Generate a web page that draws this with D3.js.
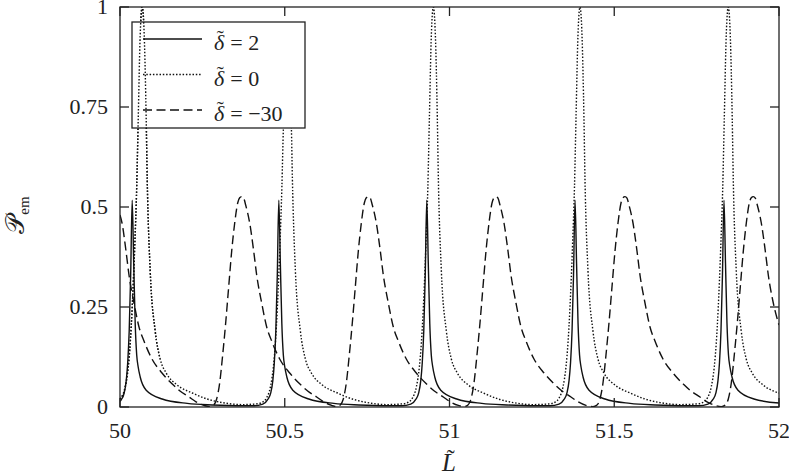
<!DOCTYPE html>
<html>
<head>
<meta charset="utf-8">
<style>
body { margin: 0; background: #fff; }
svg text { font-family: "Liberation Serif", serif; fill: #222; }
.tick-label { font-size: 22px; }
</style>
</head>
<body>
<svg id="chart" width="789" height="475"></svg>
<script src="https://cdn.jsdelivr.net/npm/d3@7"></script>
<script>
// tick values
var xTicks = [50, 50.5, 51, 51.5, 52];
var yTicks = [0, 0.25, 0.5, 0.75, 1];
var yTickLabels = ["0", "0.25", "0.5", "0.75", "1"];
var xTickLabels = ["50", "50.5", "51", "51.5", "52"];

// delta = 2 (solid)
var delta2 = [
  [50.000, 0.014], [50.0036, 0.018], [50.0127, 0.035], [50.0188, 0.065], [50.0233, 0.11], [50.0279, 0.19], [50.0324, 0.33],
  [50.037, 0.517], [50.0416, 0.36], [50.0461, 0.21], [50.0507, 0.13], [50.0552, 0.10], [50.0613, 0.075], [50.0795, 0.042],
  [50.128, 0.02], [50.204, 0.009], [50.28, 0.005], [50.371, 0.003],
  [50.406, 0.003], [50.4334, 0.007], [50.4486, 0.019], [50.4577, 0.036], [50.4638, 0.066], [50.4683, 0.11], [50.4729, 0.19], [50.4774, 0.33],
  [50.482, 0.517], [50.4866, 0.36], [50.4911, 0.21], [50.4957, 0.13], [50.5002, 0.10], [50.5063, 0.075], [50.5245, 0.042],
  [50.573, 0.02], [50.649, 0.009], [50.725, 0.005], [50.816, 0.003],
  [50.855, 0.003], [50.8824, 0.007], [50.8976, 0.019], [50.9067, 0.036], [50.9128, 0.066], [50.9173, 0.11], [50.9219, 0.19], [50.9264, 0.33],
  [50.931, 0.517], [50.9356, 0.36], [50.9401, 0.21], [50.9447, 0.13], [50.9492, 0.10], [50.9553, 0.075], [50.9735, 0.042],
  [51.022, 0.02], [51.098, 0.009], [51.174, 0.005], [51.265, 0.003],
  [51.305, 0.003], [51.3324, 0.007], [51.3476, 0.019], [51.3567, 0.036], [51.3628, 0.066], [51.3673, 0.11], [51.3719, 0.19], [51.3764, 0.33],
  [51.381, 0.517], [51.3856, 0.36], [51.3901, 0.21], [51.3947, 0.13], [51.3992, 0.10], [51.4053, 0.075], [51.4235, 0.042],
  [51.472, 0.02], [51.548, 0.009], [51.624, 0.005], [51.715, 0.003],
  [51.757, 0.003], [51.7844, 0.007], [51.7996, 0.019], [51.8087, 0.036], [51.8148, 0.066], [51.8193, 0.11], [51.8239, 0.19], [51.8284, 0.33],
  [51.833, 0.517], [51.8376, 0.36], [51.8421, 0.21], [51.8467, 0.13], [51.8512, 0.10], [51.8573, 0.075], [51.8755, 0.042],
  [51.924, 0.02], [52.000, 0.01]
];

// delta = 0 (dotted)
var delta0 = [
  [50.000, 0.02], [50.0158, 0.05], [50.0249, 0.10], [50.031, 0.16], [50.0371, 0.25], [50.0446, 0.40], [50.0507, 0.55], [50.0553, 0.72], [50.0613, 0.93],
  [50.0674, 1.0], [50.0735, 0.93], [50.0795, 0.72], [50.0826, 0.57], [50.0917, 0.34], [50.1068, 0.19], [50.122, 0.12], [50.1402, 0.085],
  [50.1734, 0.055], [50.2194, 0.035], [50.2644, 0.02], [50.3104, 0.011], [50.3704, 0.006],
  [50.417, 0.008], [50.4321, 0.012], [50.4443, 0.022], [50.4564, 0.05], [50.4655, 0.10], [50.4716, 0.16], [50.4777, 0.25], [50.4852, 0.40], [50.4913, 0.55], [50.4959, 0.70], [50.5019, 0.82],
  [50.508, 0.88], [50.5141, 0.82], [50.5201, 0.70], [50.5232, 0.57], [50.5323, 0.34], [50.5474, 0.19], [50.5626, 0.12], [50.5808, 0.085],
  [50.614, 0.055], [50.66, 0.035], [50.705, 0.02], [50.751, 0.011], [50.811, 0.006],
  [50.860, 0.008], [50.8751, 0.012], [50.8873, 0.022], [50.8994, 0.05], [50.9085, 0.10], [50.9146, 0.16], [50.9207, 0.25], [50.9282, 0.40], [50.9343, 0.55], [50.9389, 0.72], [50.9449, 0.93],
  [50.951, 1.0], [50.9571, 0.93], [50.9631, 0.72], [50.9662, 0.57], [50.9753, 0.34], [50.9904, 0.19], [51.0056, 0.12], [51.0238, 0.085],
  [51.057, 0.055], [51.103, 0.035], [51.148, 0.02], [51.194, 0.011], [51.254, 0.006],
  [51.305, 0.008], [51.3201, 0.012], [51.3323, 0.022], [51.3444, 0.05], [51.3535, 0.10], [51.3596, 0.16], [51.3657, 0.25], [51.3732, 0.40], [51.3793, 0.55], [51.3839, 0.72], [51.3899, 0.93],
  [51.396, 1.0], [51.4021, 0.93], [51.4081, 0.72], [51.4112, 0.57], [51.4203, 0.34], [51.4354, 0.19], [51.4506, 0.12], [51.4688, 0.085],
  [51.502, 0.055], [51.548, 0.035], [51.593, 0.02], [51.639, 0.011], [51.699, 0.006],
  [51.755, 0.008], [51.7701, 0.012], [51.7823, 0.022], [51.7944, 0.05], [51.8035, 0.10], [51.8096, 0.16], [51.8157, 0.25], [51.8232, 0.40], [51.8293, 0.55], [51.8339, 0.72], [51.8399, 0.93],
  [51.846, 1.0], [51.8521, 0.93], [51.8581, 0.72], [51.8612, 0.57], [51.8703, 0.34], [51.8854, 0.19], [51.9006, 0.12], [51.9188, 0.085],
  [51.952, 0.055], [52.000, 0.035]
];

// delta = -30 (dashed)
var deltaM30 = [
  [50.000, 0.48], [50.0061, 0.46], [50.0182, 0.39], [50.0273, 0.33], [50.0425, 0.26], [50.0577, 0.20], [50.0728, 0.165], [50.0971, 0.12],
  [50.1275, 0.085], [50.1578, 0.058], [50.1821, 0.04], [50.2094, 0.025], [50.2307, 0.013], [50.2549, 0.004], [50.272, 0.001],
  [50.2843, 0.005], [50.2934, 0.02], [50.3025, 0.06], [50.3116, 0.13], [50.3207, 0.21], [50.3298, 0.30], [50.339, 0.39], [50.3481, 0.46], [50.3572, 0.51], [50.3632, 0.523],
  [50.3693, 0.526], [50.3754, 0.522], [50.3814, 0.505], [50.3936, 0.46], [50.4057, 0.39], [50.4148, 0.33], [50.43, 0.26], [50.4452, 0.20], [50.4603, 0.165],
  [50.4846, 0.12], [50.515, 0.085], [50.5453, 0.058], [50.5696, 0.04], [50.5969, 0.025], [50.6182, 0.013], [50.6424, 0.004],
  [50.6565, 0.001], [50.6686, 0.005], [50.6777, 0.02], [50.6868, 0.06], [50.6959, 0.13], [50.705, 0.21], [50.7141, 0.30], [50.7233, 0.39], [50.7324, 0.46], [50.7415, 0.51], [50.7475, 0.523],
  [50.7536, 0.526], [50.7597, 0.522], [50.7657, 0.505], [50.7779, 0.46], [50.79, 0.39], [50.7991, 0.33], [50.8143, 0.26], [50.8295, 0.20], [50.8446, 0.165],
  [50.8689, 0.12], [50.8993, 0.085], [50.9296, 0.058], [50.9539, 0.04], [50.9812, 0.025], [51.0025, 0.013], [51.0267, 0.004],
  [51.044, 0.001], [51.0561, 0.005], [51.0652, 0.02], [51.0743, 0.06], [51.0834, 0.13], [51.0925, 0.21], [51.1016, 0.30], [51.1108, 0.39], [51.1199, 0.46], [51.129, 0.51], [51.135, 0.523],
  [51.1411, 0.526], [51.1472, 0.522], [51.1532, 0.505], [51.1654, 0.46], [51.1775, 0.39], [51.1866, 0.33], [51.2018, 0.26], [51.217, 0.20], [51.2321, 0.165],
  [51.2564, 0.12], [51.2868, 0.085], [51.3171, 0.058], [51.3414, 0.04], [51.3687, 0.025], [51.39, 0.013], [51.4142, 0.004],
  [51.4355, 0.001], [51.4476, 0.005], [51.4567, 0.02], [51.4658, 0.06], [51.4749, 0.13], [51.484, 0.21], [51.4931, 0.30], [51.5023, 0.39], [51.5114, 0.46], [51.5205, 0.51], [51.5265, 0.523],
  [51.5326, 0.526], [51.5387, 0.522], [51.5447, 0.505], [51.5569, 0.46], [51.569, 0.39], [51.5781, 0.33], [51.5933, 0.26], [51.6085, 0.20], [51.6236, 0.165],
  [51.6479, 0.12], [51.6783, 0.085], [51.7086, 0.058], [51.7329, 0.04], [51.7602, 0.025], [51.7815, 0.013], [51.8057, 0.004],
  [51.8249, 0.001], [51.837, 0.005], [51.8461, 0.02], [51.8552, 0.06], [51.8643, 0.13], [51.8734, 0.21], [51.8825, 0.30], [51.8917, 0.39], [51.9008, 0.46], [51.9099, 0.51], [51.9159, 0.523],
  [51.922, 0.526], [51.9281, 0.522], [51.9341, 0.505], [51.9463, 0.46], [51.9584, 0.39], [51.9675, 0.33], [51.9827, 0.26], [52.000, 0.205]
];

var legendLabels = ["2", "0", "\u221230"];

// plot frame (avoid window.top etc.)
var pL = 120, pR = 779, pT = 7, pB = 407;
var lw = 1.4;
var dotDash = "1.5,1.8", longDash = "9,4.5";

var x = d3.scaleLinear().domain([50, 52]).range([pL, pR]);
var y = d3.scaleLinear().domain([0, 1]).range([pB, pT]);

var svg = d3.select("#chart");

svg.append("defs").append("clipPath").attr("id", "plotclip")
  .append("rect").attr("x", pL).attr("y", pT).attr("width", pR - pL).attr("height", pB - pT);

var line = d3.line()
  .x(d => x(d[0]))
  .y(d => y(d[1]))
  .curve(d3.curveMonotoneX);

var series = [
  {data: delta2, dash: null},
  {data: delta0, dash: dotDash},
  {data: deltaM30, dash: longDash}
];

var plot = svg.append("g").attr("clip-path", "url(#plotclip)");
series.forEach(function(s) {
  plot.append("path")
    .datum(s.data)
    .attr("d", line)
    .attr("fill", "none")
    .attr("stroke", "#111")
    .attr("stroke-width", lw)
    .attr("stroke-dasharray", s.dash);
});

// ticks (inside, mirrored)
var tk = 9;
var axes = svg.append("g").attr("stroke", "#222").attr("stroke-width", 1.3);
xTicks.forEach(function(t) {
  axes.append("line").attr("x1", x(t)).attr("x2", x(t)).attr("y1", pB).attr("y2", pB - tk);
  axes.append("line").attr("x1", x(t)).attr("x2", x(t)).attr("y1", pT).attr("y2", pT + tk);
});
yTicks.forEach(function(t) {
  axes.append("line").attr("x1", pL).attr("x2", pL + tk).attr("y1", y(t)).attr("y2", y(t));
  axes.append("line").attr("x1", pR).attr("x2", pR - tk).attr("y1", y(t)).attr("y2", y(t));
});
axes.append("rect").attr("x", pL).attr("y", pT).attr("width", pR - pL).attr("height", pB - pT)
  .attr("fill", "none");

svg.selectAll(".xl").data(xTicks).enter().append("text")
  .attr("class", "tick-label")
  .attr("x", d => x(d)).attr("y", 438)
  .attr("text-anchor", "middle")
  .text((d, i) => xTickLabels[i]);

svg.selectAll(".yl").data(yTicks).enter().append("text")
  .attr("class", "tick-label")
  .attr("x", 108).attr("y", d => y(d) + 7)
  .attr("text-anchor", "end")
  .text((d, i) => yTickLabels[i]);

// letter with a tilde placed above it
function tilded(g, ch, px, py, size, lift) {
  var t = g.append("text").attr("x", px).attr("y", py).attr("font-size", size)
    .attr("font-style", "italic").text(ch);
  var w = t.node().getComputedTextLength();
  g.append("text").attr("x", px + w * 0.62).attr("y", py - size * lift)
    .attr("font-size", size * 0.95).attr("text-anchor", "middle").text("\u02DC");
  return w;
}

// axis titles
tilded(svg, "L", 442, 471, 25, 0.2);

var yt = svg.append("text").attr("transform", "translate(24,215) rotate(-90)").attr("text-anchor", "middle")
  .attr("font-size", 26);
yt.append("tspan").text("\u{1D4AB}");
yt.append("tspan").attr("font-size", 15).attr("dy", 5).text("em");

// legend
var lg = svg.append("g");
lg.append("rect").attr("x", 132).attr("y", 22).attr("width", 173).attr("height", 106)
  .attr("fill", "#fff").attr("stroke", "#222").attr("stroke-width", 1.3);
series.forEach(function(s, i) {
  var ly = 39 + i * 35.5;
  lg.append("line").attr("x1", 143).attr("x2", 202).attr("y1", ly).attr("y2", ly)
    .attr("stroke", "#111").attr("stroke-width", lw).attr("stroke-dasharray", s.dash);
  var w = tilded(lg, "\u03B4", 214, ly + 11, 22, 0.22);
  lg.append("text").attr("x", 214 + w + 6).attr("y", ly + 11).attr("font-size", 22)
    .text("= " + legendLabels[i]);
});

// the first dotted peak is drawn over the legend in the reference
svg.append("clipPath").attr("id", "peakclip")
  .append("rect").attr("x", pL).attr("y", pT).attr("width", x(50.12) - pL).attr("height", pB - pT);
svg.append("path")
  .datum(delta0)
  .attr("clip-path", "url(#peakclip)")
  .attr("d", line)
  .attr("fill", "none")
  .attr("stroke", "#111")
  .attr("stroke-width", lw)
  .attr("stroke-dasharray", dotDash);
</script>
</body>
</html>
